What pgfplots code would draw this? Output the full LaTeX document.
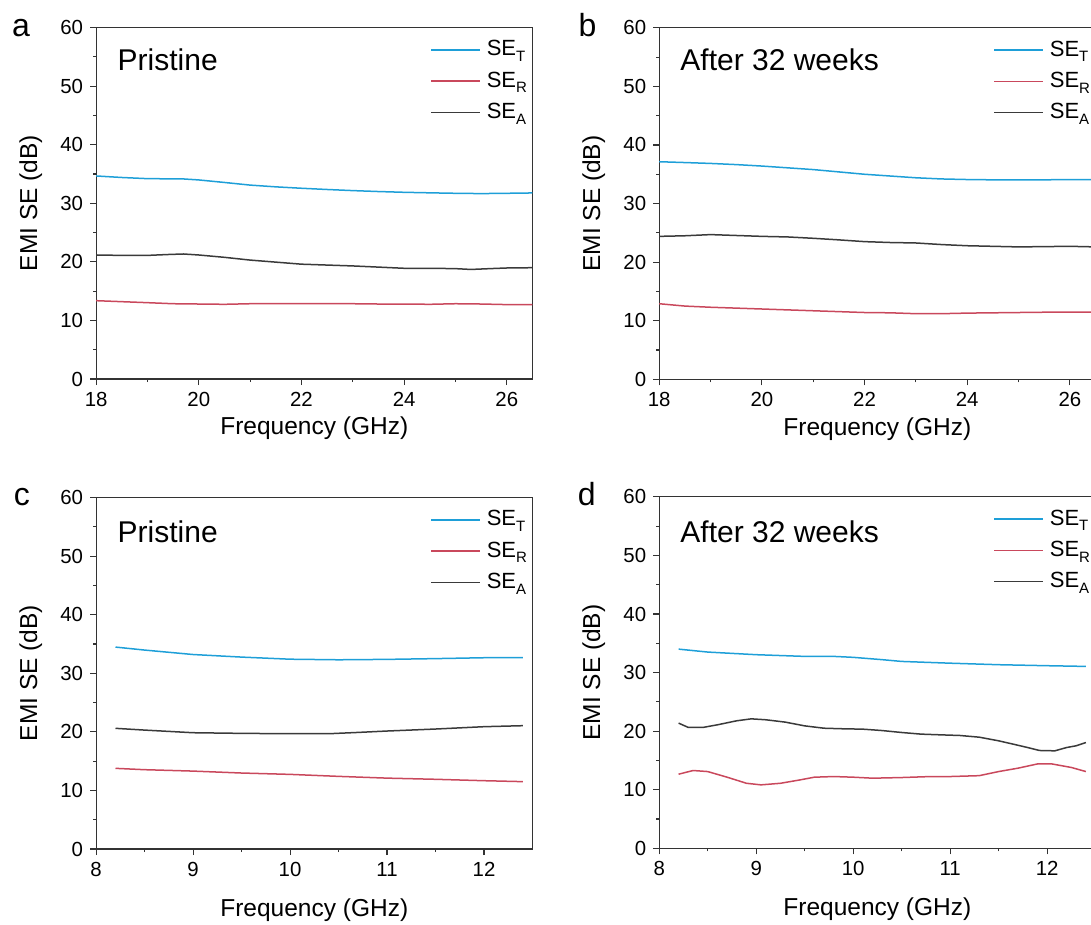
\documentclass[border=0pt]{standalone}
\usepackage{fontspec}
\setmainfont{Liberation Sans}
\usepackage{pgfplots}
\pgfplotsset{compat=1.18}
\definecolor{cT}{HTML}{1E9FD8}
\definecolor{cR}{HTML}{C9485C}
\definecolor{cA}{HTML}{3A3A3A}
\definecolor{axgray}{HTML}{333333}
\pgfplotsset{
  emi/.style={
    scale only axis, width=218.2pt, height=175.75pt, anchor=south west,
    ymin=0, ymax=60, ytick={0,10,...,60}, minor y tick num=1, minor x tick num=1,
    tick align=outside, xtick pos=bottom, ytick pos=left,
    major tick length=3pt, minor tick length=1.5pt,
    axis line style={axgray, line width=0.55pt},
    every tick/.style={axgray, line width=0.55pt},
    tick label style={font=\fontsize{10.2}{12}\selectfont},
    /pgf/number format/assume math mode=true,
    every axis y label/.style={at={(axis description cs:-0.1352,0.5)}, anchor=base, rotate=90, font=\fontsize{12.25}{14}\selectfont},
    every axis x label/.style={at={(axis description cs:0.5,-0.1593)}, anchor=base, font=\fontsize{12.25}{14}\selectfont},
    ylabel={EMI SE (dB)}, xlabel={Frequency (GHz)},
    legend style={at={(axis description cs:0.766,0.965)}, anchor=north west, draw=none, fill=none,
      inner sep=0pt, outer sep=0pt, row sep=5.65pt, column sep=3pt,
      font=\fontsize{11}{13}\selectfont,
      nodes={inner sep=0pt, text height=8pt, text depth=2pt}},
    legend cell align=left,
    legend image code/.code={\draw[##1, line width=0.7pt] (0pt,0pt) -- (24.5pt,0pt);},
    every axis plot/.append style={line width=0.75pt},
  },
  top/.style={xmin=18, xmax=26.5, xtick={18,20,...,26}},
  bot/.style={xmin=8, xmax=12.5, xtick={8,9,...,12},
    every axis x label/.append style={at={(axis description cs:0.5,-0.191)}}},
}
\newcommand{\sub}[1]{\raisebox{-2.8pt}{\fontsize{7.5}{8}\selectfont #1}}
\begin{document}
\begin{tikzpicture}
\path[use as bounding box] (0pt,0pt) rectangle (545.5pt,-462.5pt);
% ---------------- a
\begin{axis}[emi, top, at={(48.05pt,-189.5pt)}]
\addplot[cT] coordinates {(18,34.66) (18.5,34.4) (19,34.2) (19.7,34.15) (20,33.98) (20.5,33.55) (21,33.1) (21.5,32.8) (22,32.56) (22.5,32.35) (23,32.16) (23.5,32.0) (24,31.87) (24.5,31.78) (25,31.7) (25.5,31.65) (26,31.7) (26.5,31.76)};
\addlegendentry{SE\sub{T}}
\addplot[cR] coordinates {(18,13.37) (18.5,13.2) (19,13.03) (19.5,12.85) (20,12.8) (20.5,12.75) (21,12.85) (22,12.85) (23,12.85) (23.5,12.8) (24,12.8) (24.5,12.75) (25,12.85) (25.5,12.8) (26,12.7) (26.5,12.7)};
\addlegendentry{SE\sub{R}}
\addplot[cA] coordinates {(18,21.17) (18.5,21.1) (19,21.1) (19.4,21.25) (19.7,21.34) (20,21.17) (20.5,20.77) (21,20.3) (21.5,19.95) (22,19.6) (22.5,19.45) (23,19.3) (23.5,19.1) (24,18.9) (24.5,18.9) (25,18.84) (25.3,18.7) (25.7,18.85) (26,18.95) (26.5,19.0)};
\addlegendentry{SE\sub{A}}
\end{axis}
% ---------------- b
\begin{axis}[emi, top, at={(329.6pt,-189.65pt)}]
\addplot[cT] coordinates {(18,37.14) (18.5,37.0) (19,36.85) (19.5,36.65) (20,36.4) (20.5,36.1) (21,35.8) (21.5,35.4) (22,35.0) (22.5,34.7) (23,34.4) (23.5,34.2) (24,34.1) (24.5,34.05) (25,34.05) (25.5,34.05) (26,34.1) (26.5,34.1)};
\addlegendentry{SE\sub{T}}
\addplot[cR] coordinates {(18,12.9) (18.5,12.5) (19,12.3) (19.5,12.15) (20,12.0) (20.5,11.85) (21,11.7) (21.5,11.55) (22,11.4) (22.5,11.35) (23,11.2) (23.5,11.2) (24,11.3) (24.5,11.35) (25,11.4) (25.5,11.45) (26,11.47) (26.5,11.45)};
\addlegendentry{SE\sub{R}}
\addplot[cA] coordinates {(18,24.4) (18.5,24.5) (19,24.7) (19.5,24.55) (20,24.4) (20.5,24.3) (21,24.07) (21.5,23.8) (22,23.5) (22.5,23.35) (23,23.27) (23.5,23.0) (24,22.8) (24.5,22.7) (25,22.6) (25.5,22.65) (26,22.7) (26.5,22.6)};
\addlegendentry{SE\sub{A}}
\end{axis}
% ---------------- c
\begin{axis}[emi, bot, at={(48.05pt,-424.5pt)}]
\addplot[cT] coordinates {(8.2,34.47) (8.5,33.96) (9,33.2) (9.5,32.76) (10,32.4) (10.5,32.3) (11,32.37) (11.5,32.5) (12,32.65) (12.4,32.65)};
\addlegendentry{SE\sub{T}}
\addplot[cR] coordinates {(8.2,13.77) (8.5,13.54) (9,13.3) (9.5,12.97) (10,12.74) (10.5,12.4) (11,12.1) (11.5,11.9) (12,11.66) (12.4,11.5)};
\addlegendentry{SE\sub{R}}
\addplot[cA] coordinates {(8.2,20.6) (8.5,20.3) (9,19.85) (9.5,19.74) (10,19.68) (10.4,19.68) (10.7,19.9) (11,20.14) (11.5,20.48) (12,20.88) (12.4,21.05)};
\addlegendentry{SE\sub{A}}
\end{axis}
% ---------------- d
\begin{axis}[emi, bot, at={(329.6pt,-424.15pt)}]
\addplot[cT] coordinates {(8.2,34.0) (8.5,33.5) (9,33.05) (9.5,32.76) (9.8,32.76) (10,32.6) (10.3,32.2) (10.5,31.9) (11,31.6) (11.5,31.34) (12,31.17) (12.4,31.05)};
\addlegendentry{SE\sub{T}}
\addplot[cR] coordinates {(8.2,12.65) (8.35,13.28) (8.5,13.1) (8.7,12.14) (8.9,11.1) (9.05,10.83) (9.25,11.1) (9.45,11.67) (9.6,12.14) (9.8,12.25) (10.0,12.14) (10.2,11.97) (10.5,12.08) (10.8,12.25) (11.0,12.25) (11.3,12.4) (11.5,13.1) (11.7,13.68) (11.9,14.4) (12.05,14.4) (12.25,13.8) (12.4,13.1)};
\addlegendentry{SE\sub{R}}
\addplot[cA] coordinates {(8.2,21.37) (8.3,20.63) (8.45,20.63) (8.6,21.08) (8.8,21.77) (8.95,22.1) (9.1,21.94) (9.3,21.54) (9.5,20.9) (9.7,20.5) (9.9,20.4) (10.1,20.34) (10.3,20.1) (10.5,19.77) (10.7,19.49) (10.9,19.37) (11.1,19.26) (11.3,18.97) (11.5,18.35) (11.65,17.78) (11.8,17.2) (11.92,16.7) (12.08,16.64) (12.2,17.2) (12.3,17.5) (12.4,18.06)};
\addlegendentry{SE\sub{A}}
\end{axis}
% panel letters and captions
\node[anchor=base, inner sep=0pt, font=\fontsize{16}{18}\selectfont] at (10.5pt,-18.5pt) {a};
\node[anchor=base, inner sep=0pt, font=\fontsize{16}{18}\selectfont] at (293.7pt,-18.35pt) {b};
\node[anchor=base, inner sep=0pt, font=\fontsize{16}{18}\selectfont] at (10.9pt,-252.5pt) {c};
\node[anchor=base, inner sep=0pt, font=\fontsize{16}{18}\selectfont] at (293.4pt,-252.5pt) {d};
\node[anchor=base west, inner sep=0pt, font=\fontsize{15}{17}\selectfont] at (58.65pt,-35.35pt) {Pristine};
\node[anchor=base west, inner sep=0pt, font=\fontsize{15}{17}\selectfont] at (340pt,-35.35pt) {After 32 weeks};
\node[anchor=base west, inner sep=0pt, font=\fontsize{15}{17}\selectfont] at (58.65pt,-271.15pt) {Pristine};
\node[anchor=base west, inner sep=0pt, font=\fontsize{15}{17}\selectfont] at (340pt,-271.15pt) {After 32 weeks};
\end{tikzpicture}
\end{document}
